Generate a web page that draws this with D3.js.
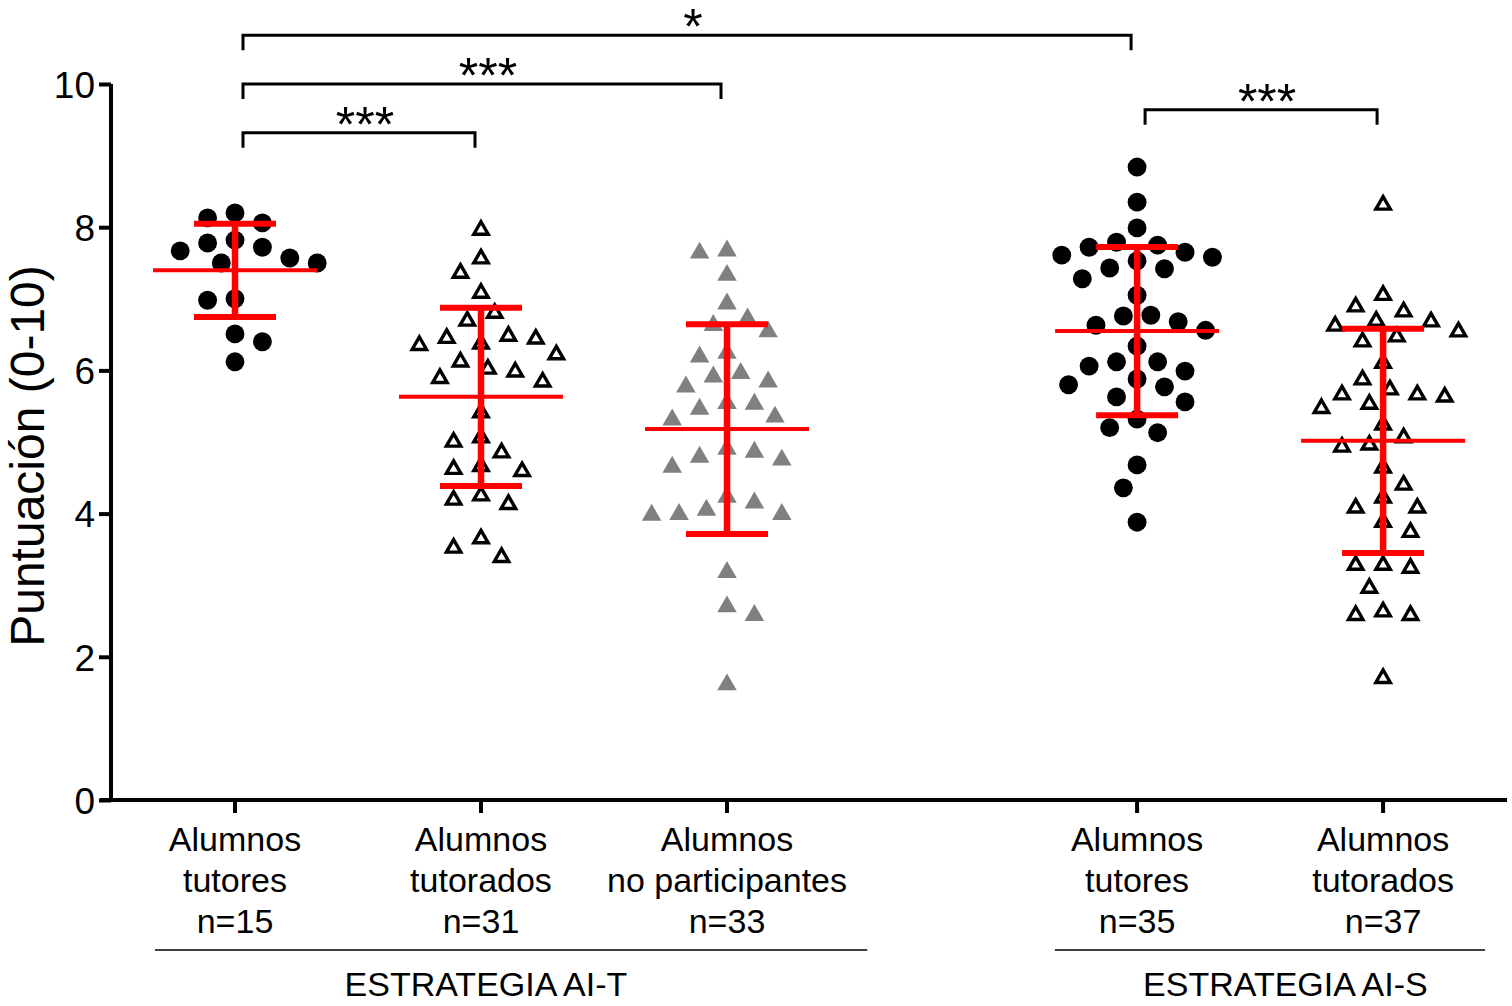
<!DOCTYPE html>
<html>
<head>
<meta charset="utf-8">
<script src="https://cdn.jsdelivr.net/npm/d3@7"></script>
<style>
  body { margin: 0; background: #fff; }
  text { font-family: 'Liberation Sans', Arial, Helvetica, sans-serif; fill: #000; }
</style>
</head>
<body>
<div id="stage"></div>
<script>
// Category tick labels (one line per entry)
const tickLabels = [
    ['Alumnos', 'tutores', 'n=15'],
    ['Alumnos', 'tutorados', 'n=31'],
    ['Alumnos', 'no participantes', 'n=33'],
    ['Alumnos', 'tutores', 'n=35'],
    ['Alumnos', 'tutorados', 'n=37']
];
const strategy = ['AI-T', 'AI-T', 'AI-T', 'AI-S', 'AI-S'];
const markers = ['circle', 'openTriangle', 'grayTriangle', 'circle', 'openTriangle'];

// Scores, one array per column
const tutoresT = [8.13, 8.06, 8.20, 7.82, 7.72, 7.57, 7.50, 7.50, 7.67, 7.78,
    7.00, 6.98, 6.51, 6.40, 6.12];
const tutoradosT = [7.96, 7.56, 7.36, 7.08, 6.80, 6.69, 6.45, 6.37, 6.35, 6.44,
    6.48, 6.22, 6.12, 5.98, 5.84, 5.89, 6.02, 5.41, 5.06, 5.00,
    4.85, 4.66, 4.59, 4.62, 4.19, 4.13, 4.25, 3.65, 3.39, 3.52];
const noParticipantes = [7.64, 7.67, 7.33, 6.93, 6.72, 6.54, 6.63, 6.19, 6.24, 5.91,
    5.84, 5.96, 5.77, 5.53, 5.35, 5.31, 5.46, 5.54, 4.90, 4.79,
    4.65, 4.75, 4.86, 4.23, 4.05, 3.99, 3.98, 3.99, 4.15, 3.18,
    2.70, 2.58, 1.61];
const tutoresS = [8.84, 8.35, 7.99, 7.75, 7.65, 7.58, 7.53, 7.61, 7.72, 7.79,
    7.42, 7.43, 7.28, 7.05, 6.76, 6.63, 6.56, 6.68, 6.77, 6.34,
    6.12, 5.99, 6.06, 6.12, 5.88, 5.80, 5.63, 5.77, 5.56, 5.32,
    5.13, 5.20, 4.68, 4.36, 3.88];
const tutoradosS = [8.31, 7.05, 6.89, 6.82, 6.69, 6.62, 6.68, 6.47, 6.54, 6.40,
    6.10, 5.73, 5.87, 5.66, 5.53, 5.47, 5.63, 5.66, 5.24, 4.93,
    4.96, 5.06, 4.64, 4.40, 4.22, 4.08, 4.08, 3.88, 3.74, 3.28,
    3.24, 3.28, 2.96, 2.58, 2.58, 2.63, 1.70];
const series = [tutoresT, tutoradosT, noParticipantes, tutoresS, tutoradosS];

const yTicks = [0, 2, 4, 6, 8, 10];

// Significance brackets: from/to column index, label
const brackets = [
    {from: 0, to: 3, level: 10.68, label: '*'},
    {from: 0, to: 2, level: 10.0, label: '***'},
    {from: 0, to: 1, level: 9.32, label: '***'},
    {from: 3, to: 4, level: 9.64, label: '***'}
];

// Strategy group labels
const groups = [
    {name: 'ESTRATEGIA AI-T', start: -0.325, end: 2.57, mid: 1.02},
    {name: 'ESTRATEGIA AI-S', start: 3.333, end: 5.081, mid: 4.27}
];

const width = 1512;
const height = 1006;

const svg = d3.select('#stage')
    .append('svg')
    .attr('width', width)
    .attr('height', height)
    .attr('viewBox', [0, 0, width, height]);

svg.append('rect').attr('width', width).attr('height', height).attr('fill', '#fff');

const y = d3.scaleLinear().domain([0, 10]).range([800, 84]);
const x = d3.scaleLinear().domain([0, 1]).range([235, 481]);

// column slot: extra gap before the second strategy
const slot = i => i + (strategy[i] === 'AI-S' ? 0.667 : 0);
const cx = i => x(slot(i));

// y axis
const yAxis = svg.append('g')
    .attr('transform', 'translate(111,0)')
    .call(d3.axisLeft(y).tickValues(yTicks).tickSize(12).tickPadding(4));
yAxis.select('.domain').attr('stroke-width', 4).attr('d', `M0,${y(10)}V${y(0) + 2}`);
yAxis.selectAll('.tick line').attr('stroke-width', 4);
yAxis.selectAll('.tick text')
    .attr('font-size', 37)
    .attr('font-family', "'Liberation Sans', Arial, sans-serif")
    .attr('dy', '0.36em');

// x axis line with ticks
svg.append('line')
    .attr('x1', 100).attr('x2', 1507)
    .attr('y1', y(0)).attr('y2', y(0))
    .attr('stroke', '#000').attr('stroke-width', 4);

svg.append('g').selectAll('line')
    .data(tickLabels)
    .join('line')
    .attr('x1', (d, i) => cx(i)).attr('x2', (d, i) => cx(i))
    .attr('y1', y(0)).attr('y2', y(0) + 13)
    .attr('stroke', '#000').attr('stroke-width', 4);

const labels = svg.append('g').selectAll('text')
    .data(tickLabels)
    .join('text')
    .attr('text-anchor', 'middle')
    .attr('font-size', 34);
labels.selectAll('tspan')
    .data((d, i) => d.map(t => ({t, i})))
    .join('tspan')
    .attr('x', d => cx(d.i))
    .attr('y', (d, j) => 851 + j * 41)
    .text(d => d.t);

// strategy groups
groups.forEach(g => {
    svg.append('line')
        .attr('x1', x(g.start)).attr('x2', x(g.end))
        .attr('y1', 950).attr('y2', 950)
        .attr('stroke', '#000').attr('stroke-width', 1.6);
    svg.append('text')
        .attr('x', x(g.mid)).attr('y', 996)
        .attr('text-anchor', 'middle')
        .attr('font-size', 34)
        .text(g.name);
});

// y axis title
svg.append('text')
    .attr('transform', `translate(44,${456}) rotate(-90)`)
    .attr('text-anchor', 'middle')
    .attr('font-size', 48)
    .text('Puntuación (0-10)');

// simple column scatter layout on a fine grid, balancing both sides
function swarm(values, center) {
    const step = 6.85, minDist = 24;
    const order = d3.range(values.length).sort((a, b) => values[b] - values[a]);
    const placed = [];
    const out = new Array(values.length);
    let left = 0, right = 0;
    order.forEach(idx => {
        const py = y(values[idx]);
        const free = px => !placed.some(p => (p.x - px) ** 2 + (p.y - py) ** 2 < minDist * minDist);
        for (let m = 0; m < 40; m++) {
            const sides = m === 0 ? [0] : (left <= right ? [-m, m] : [m, -m]);
            const hit = sides.find(s => free(center + s * step));
            if (hit !== undefined) {
                const px = center + hit * step;
                if (hit < 0) left++; else if (hit > 0) right++;
                placed.push({x: px, y: py});
                out[idx] = {x: px, y: py};
                break;
            }
        }
    });
    return out;
}

const circle = d3.symbol(d3.symbolCircle, 280)();
const openTri = d3.symbol(d3.symbolTriangle, 90)();
const grayTri = d3.symbol(d3.symbolTriangle, 165)();

const points = svg.append('g');
series.forEach((vals, i) => {
    const pos = swarm(vals, cx(i));
    const kind = markers[i];
    points.append('g').selectAll('path')
        .data(pos)
        .join('path')
        .attr('transform', d => `translate(${d.x},${d.y})`)
        .attr('d', kind === 'circle' ? circle : kind === 'grayTriangle' ? grayTri : openTri)
        .attr('fill', kind === 'circle' ? '#000' : kind === 'grayTriangle' ? '#808080' : 'none')
        .attr('stroke', kind === 'openTriangle' ? '#000' : 'none')
        .attr('stroke-width', 3.4)
        .attr('stroke-linejoin', 'miter');
});

// mean and SD in red
const stats = series.map((vals, i) => {
    const m = d3.mean(vals), sd = d3.deviation(vals);
    return {i, m, lo: m - sd, hi: m + sd};
});
const err = svg.append('g').attr('stroke', '#f00');
err.selectAll('.mean').data(stats).join('line')
    .attr('x1', d => cx(d.i) - 82).attr('x2', d => cx(d.i) + 82)
    .attr('y1', d => y(d.m)).attr('y2', d => y(d.m))
    .attr('stroke-width', 4);
err.selectAll('.bar').data(stats).join('line')
    .attr('x1', d => cx(d.i)).attr('x2', d => cx(d.i))
    .attr('y1', d => y(d.hi)).attr('y2', d => y(d.lo))
    .attr('stroke-width', 6.5);
err.selectAll('.capHi').data(stats).join('line')
    .attr('x1', d => cx(d.i) - 41).attr('x2', d => cx(d.i) + 41)
    .attr('y1', d => y(d.hi)).attr('y2', d => y(d.hi))
    .attr('stroke-width', 6);
err.selectAll('.capLo').data(stats).join('line')
    .attr('x1', d => cx(d.i) - 41).attr('x2', d => cx(d.i) + 41)
    .attr('y1', d => y(d.lo)).attr('y2', d => y(d.lo))
    .attr('stroke-width', 6);

// significance brackets
const br = svg.append('g');
brackets.forEach(b => {
    const x1 = cx(b.from) + 8, x2 = cx(b.to) - 6, yy = y(b.level);
    br.append('path')
        .attr('d', `M${x1},${yy + 15}V${yy}H${x2}V${yy + 15}`)
        .attr('fill', 'none').attr('stroke', '#000').attr('stroke-width', 3);
    br.append('text')
        .attr('x', (x1 + x2) / 2 + 6).attr('y', yy + 9)
        .attr('text-anchor', 'middle')
        .attr('font-size', 50)
        .text(b.label);
});
</script>
</body>
</html>
